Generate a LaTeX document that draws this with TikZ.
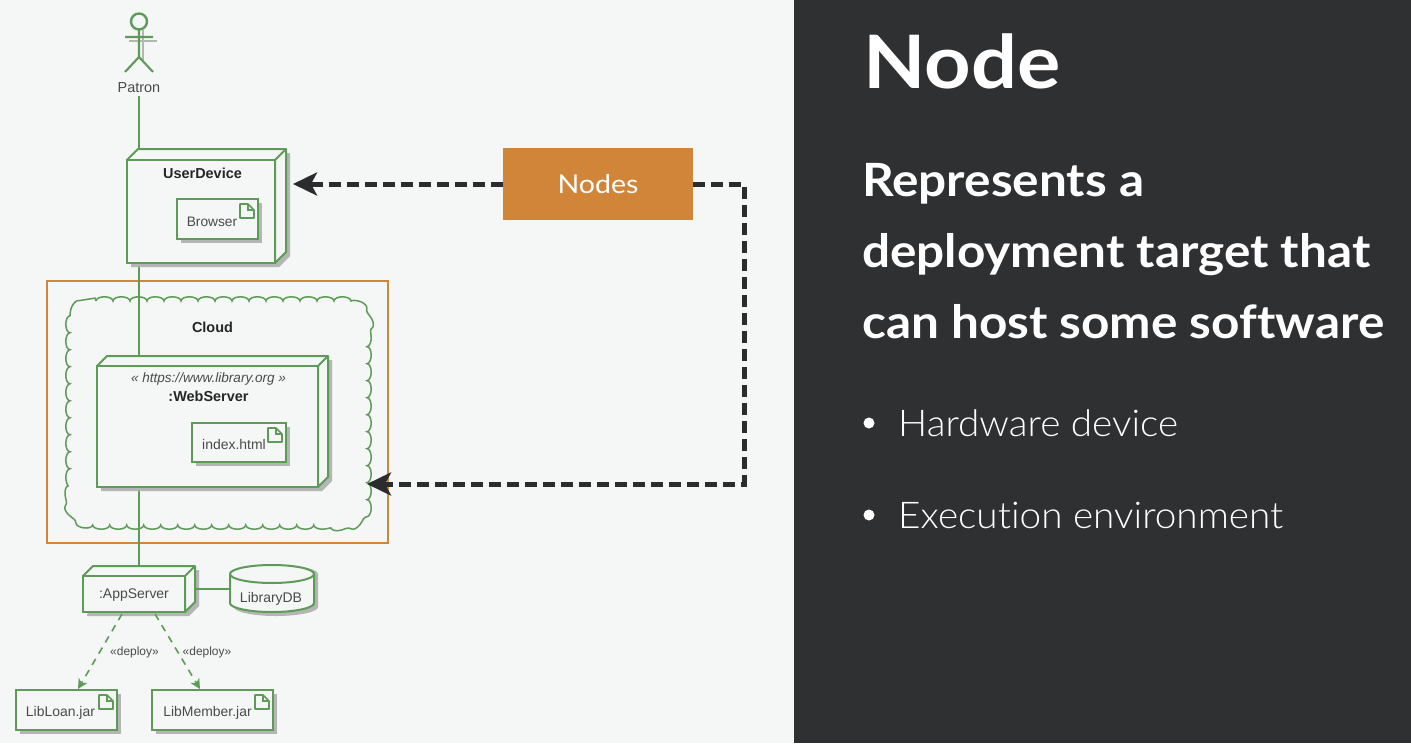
\documentclass[tikz,border=0pt]{standalone}
\usepackage{fontspec}
\setmainfont{Liberation Sans}
\newfontfamily\slidefont[FakeStretch=1.1,Ligatures=NoCommon]{Lato}
\newfontfamily\slidehead[FakeStretch=1.08,Ligatures=NoCommon]{Lato}
\newfontfamily\slidetitle[FakeStretch=1.1,Ligatures=NoCommon]{Lato}
\newfontfamily\slidelight[FakeStretch=1.05,Ligatures=NoCommon]{Lato Light}
\usetikzlibrary{arrows.meta,decorations.pathmorphing,calc}
\definecolor{umlgreen}{HTML}{5E9A58}
\definecolor{umlshadow}{HTML}{B4B6B4}
\definecolor{pagebg}{HTML}{F5F6F6}
\definecolor{panelbg}{HTML}{2F3032}
\definecolor{calloutorange}{HTML}{D08538}
\definecolor{arrowdark}{HTML}{2B2C2D}
\definecolor{umltext}{HTML}{4A4A4A}
\tikzset{
  x=1bp,y=-1bp,
  umlline/.style={draw=umlgreen,line width=1.2bp},
  umlbox/.style={umlline,line width=2bp,fill=pagebg,inner sep=0pt,outer sep=0pt,rectangle,anchor=north west},
  umlshade/.style={fill=umlshadow,draw=none},
  umllabel/.style={text=umltext,inner sep=0pt,font=\fontsize{14}{15}\selectfont},
  umlbold/.style={text=black!85,inner sep=0pt,font=\fontsize{14.5}{15}\selectfont\bfseries},
  calloutline/.style={draw=arrowdark,line width=5bp,dash pattern=on 12bp off 6bp},
  callouttip/.style={-{Stealth[length=24bp,width=23bp,inset=6bp]}},
  heading/.style={text=white,inner sep=0pt,anchor=base west},
}
% name x1 y1 x2 y2 depth
\newcommand{\depnode}[6]{%
  \pgfmathsetmacro{\boxw}{#4-#2}\pgfmathsetmacro{\boxh}{#5-#3}%
  \fill[umlshade] (#2+#6+4,#3-#6+4) -- (#4+#6+4,#3-#6+4) -- (#4+#6+4,#5-#6+4) -- (#4+4,#5+4) -- (#2+4,#5+4) -- cycle;
  \draw[umlline,line width=2bp,fill=pagebg,line join=round] (#2,#3) -- (#2+#6,#3-#6) -- (#4+#6,#3-#6) -- (#4+#6,#5-#6) -- (#4,#5) -- (#4,#3) -- cycle;
  \draw[umlline,line width=2bp] (#4,#3) -- (#4+#6,#3-#6);
  \node[umlbox,minimum width=\boxw bp,minimum height=\boxh bp] (#1) at (#2,#3) {};
}
% name x1 y1 x2 y2 foldx
\newcommand{\artifact}[6]{%
  \pgfmathsetmacro{\boxw}{#4-#2}\pgfmathsetmacro{\boxh}{#5-#3}%
  \fill[umlshade] (#2+4,#3+4) rectangle (#4+4,#5+4);
  \node[umlbox,minimum width=\boxw bp,minimum height=\boxh bp] (#1) at (#2,#3) {};
  \draw[umlline,line width=1.7bp,line join=round] (#6,#3+5) -- (#6+8,#3+5) -- (#6+14,#3+11) -- (#6+14,#3+19) -- (#6,#3+19) -- cycle;
  \draw[umlline,line width=1.2bp] (#6+8,#3+5) -- (#6+8,#3+11) -- (#6+14,#3+11);
}
\begin{document}
\begin{tikzpicture}
\useasboundingbox (0,0) rectangle (1411,743);
\fill[pagebg] (0,0) rectangle (794,743);
\fill[panelbg] (794,0) rectangle (1411,743);

% focus frame and cloud
\node[draw=calloutorange,line width=2.8bp,inner sep=0,outer sep=0,minimum width=341bp,minimum height=262bp,anchor=north west] (frame) at (47,281) {};
\draw[umlline,line width=1.5bp,decorate,decoration={bumps,segment length=34bp,amplitude=4.2bp}]
  (96,301) -- (342,301) .. controls (356,301) and (367,312) .. (367,326)
  -- (367,500) .. controls (367,514) and (356,525) .. (342,525)
  -- (96,525) .. controls (82,525) and (70,514) .. (70,500)
  -- (70,326) .. controls (70,312) and (82,301) .. (96,301);

% lines behind the nodes
\node[umllabel,font=\fontsize{14.5}{15}\selectfont] (patron) at (139,87.5) {Patron};
\coordinate (patrontail) at (139,96);
\coordinate (ws) at (139,360);
\coordinate (as) at (139,570);
\coordinate (ud) at (139,155);
\draw[umlline] (patrontail) -- (ud);
\draw[umlline] (ud) -- (ws);
\draw[umlline] (ws) -- (as);

% actor
\coordinate (hd) at (139,21.5);
\draw[umlshade,draw=umlshadow,line width=1.2bp] (129,41) -- (157,41) (143,30) -- (143,61);
\draw[umlline,line width=2.4bp] (hd) circle (8bp);
\draw[umlline,line width=2.1bp] (125,37) -- (153,37) (139,29.5) -- (139,57) (125,72) -- (139,57) -- (153,72);

% nodes
\depnode{userdevice}{127}{160}{275}{263}{11}
\node[umlbold] (udlabel) at (202.5,173) {UserDevice};
\artifact{browser}{177}{199}{258}{239}{240}
\node[umllabel,font=\fontsize{13.8}{15}\selectfont] (browserlabel) at (212,222) {Browser};

\node[umlbold] (cloudlabel) at (212.5,327) {Cloud};

\depnode{webserver}{97}{366}{318}{487}{10}
\node[umllabel,font=\fontsize{13.6}{15}\selectfont\itshape] (wsstereo) at (208.5,379) {«~https://www.library.org~»};
\node[umlbold] (wslabel) at (208.5,396) {:WebServer};
\artifact{index}{192}{423}{286}{462}{268}
\node[umllabel] (indexlabel) at (234,445) {index.html};

\depnode{appserver}{83}{576}{185}{612}{10}
\node[umllabel] (aslabel) at (134,595) {:AppServer};

% database
\fill[umlshade] (234,574) arc[start angle=180,end angle=0,x radius=42,y radius=-9] -- (318,607) arc[start angle=360,end angle=180,x radius=42,y radius=-9] -- cycle;
\node[inner sep=0,minimum width=84bp,minimum height=47bp,anchor=north west] (db) at (230,565) {};
\draw[umlline,line width=2bp,fill=pagebg] (230,574) arc[start angle=180,end angle=0,x radius=42,y radius=-9] -- (314,603) arc[start angle=360,end angle=180,x radius=42,y radius=-9] -- cycle;
\draw[umlline,line width=2bp] (230,574) arc[start angle=180,end angle=360,x radius=42,y radius=-9];
\node[umllabel] (dblabel) at (271,599) {LibraryDB};
\coordinate (asright) at (196,589);
\draw[umlline] (asright) -- (asright -| db.west);

\artifact{libloan}{16}{690}{117}{730}{99}
\node[umllabel] (loanlabel) at (60.5,713) {LibLoan.jar};
\artifact{libmember}{152}{690}{273}{730}{255}
\node[umllabel] (memberlabel) at (207.5,713) {LibMember.jar};

% deploy dependencies
\coordinate (dep1) at (122,614);
\coordinate (dep2) at (155,614);
\draw[umlline,line width=1.6bp,dash pattern=on 7bp off 6bp,-{Stealth[length=10bp,width=10bp,inset=3bp]}] (dep1) -- (78,689);
\draw[umlline,line width=1.6bp,dash pattern=on 7bp off 6bp,-{Stealth[length=10bp,width=10bp,inset=3bp]}] (dep2) -- (200,689);
\node[umllabel,font=\fontsize{12}{12}\selectfont] (dep1label) at (134.5,652) {«deploy»};
\node[umllabel,font=\fontsize{12}{12}\selectfont] (dep2label) at (207,652) {«deploy»};

% callout
\node[fill=calloutorange,inner sep=0,outer sep=0,minimum width=190bp,minimum height=72bp,text=white,font=\slidefont\fontsize{26}{30}\selectfont] (nodes) at (598,184) {Nodes};
\coordinate (udtip) at (293,184);
\coordinate (cloudtip) at (367,484);
\draw[calloutline,callouttip] (nodes.west) -- (udtip);
\draw[calloutline,callouttip] (nodes.east) -- (744,184) -- (744,484) -- (cloudtip);

% text panel
\node[heading,font=\slidetitle\fontsize{74}{80}\selectfont\bfseries] (title) at (863,88) {Node};
\node[heading,font=\slidehead\fontsize{46}{50}\selectfont\bfseries] (l1) at (862,196) {Represents a};
\node[heading,font=\slidehead\fontsize{46}{50}\selectfont\bfseries] (l2) at (862,267) {deployment target that};
\node[heading,font=\slidehead\fontsize{46}{50}\selectfont\bfseries] (l3) at (862,338) {can host some software};
\fill[white] (869,423) circle (5.5bp);
\fill[white] (869,515) circle (5.5bp);
\node[heading,font=\slidelight\fontsize{37}{40}\selectfont] (b1) at (898,436) {Hardware device};
\node[heading,font=\slidelight\fontsize{37}{40}\selectfont] (b2) at (898,528) {Execution environment};
\end{tikzpicture}
\end{document}
